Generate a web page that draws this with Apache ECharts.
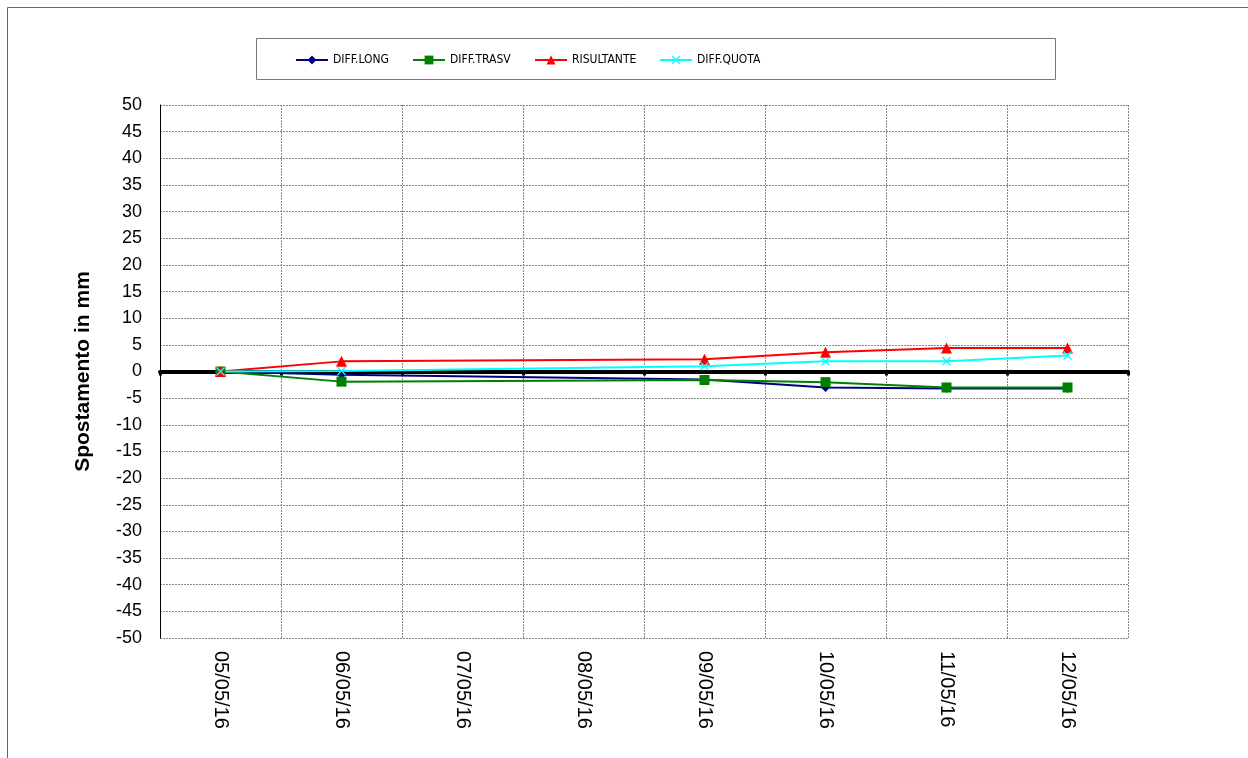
<!DOCTYPE html>
<html>
<head>
<meta charset="utf-8">
<script src="https://cdn.jsdelivr.net/npm/echarts@6/dist/echarts.min.js"></script>
<style>
html,body{margin:0;padding:0;background:#fff;}
#chart{width:1248px;height:758px;}
</style>
</head>
<body>
<div id="chart"></div>
<script>
const categories = ['05/05/16','06/05/16','07/05/16','08/05/16','09/05/16','10/05/16','11/05/16','12/05/16'];
const diffLong   = [0, -0.6, null, null, -1.5, -3.0, -3.2, -3.2];
const diffTrasv  = [0, -1.9, null, null, -1.6, -2.0, -3.0, -3.0];
const risultante = [0, 1.9, null, null, 2.3, 3.6, 4.4, 4.4];
const diffQuota  = [0, 0.1, null, null, 1.0, 1.9, 1.9, 3.0];
const yTicks = {min: -50, max: 50, interval: 5};

const FONT = '"Liberation Sans", Arial, sans-serif';
const NARROW = '"Liberation Sans Narrow", "Arial Narrow", "DejaVu Sans Condensed", sans-serif';
const crossPath = 'path://M0,1 L1,0 L5,4 L9,0 L10,1 L6,5 L10,9 L9,10 L5,6 L1,10 L0,9 L4,5 Z';

const chart = echarts.init(document.getElementById('chart'), null, {renderer: 'canvas'});

function mkSeries(name, data, color, symbol, size) {
  return {
    name: name, type: 'line', data: data, connectNulls: true,
    xAxisIndex: 0, yAxisIndex: 0,
    symbol: symbol, symbolSize: size,
    lineStyle: {color: color, width: 2},
    itemStyle: {color: color},
    emphasis: {disabled: true},
    animation: false
  };
}

function mkLegend(name, left) {
  return {
    data: [name], left: left, top: 54, padding: 0,
    itemWidth: 32, itemHeight: 11, itemGap: 5,
    textStyle: {fontFamily: NARROW, fontSize: 12, color: '#000'},
    selectedMode: false
  };
}

const option = {
  backgroundColor: '#fff',
  animation: false,
  graphic: [
    {type: 'rect', shape: {x: 7.5, y: 7.5, width: 1400, height: 900}, style: {fill: 'none', stroke: '#666', lineWidth: 1}, silent: true, z: -1},
    {type: 'rect', shape: {x: 256.5, y: 38.5, width: 799, height: 41}, style: {fill: 'none', stroke: '#777', lineWidth: 1}, silent: true, z: -1}
  ],
  legend: [
    mkLegend('DIFF.LONG', 295),
    mkLegend('DIFF.TRASV', 412),
    mkLegend('RISULTANTE', 534),
    mkLegend('DIFF.QUOTA', 659)
  ],
  grid: {left: 160, right: 120, top: 105, bottom: 120, containLabel: false},
  xAxis: [
    {
      type: 'category', data: categories, boundaryGap: true, position: 'bottom',
      axisLine: {show: false, onZero: false},
      axisTick: {show: false},
      axisLabel: {rotate: -90, fontSize: 20, fontFamily: FONT, color: '#000', margin: 13, interval: 0},
      splitLine: {show: true, interval: 0, lineStyle: {color: '#888', width: 1, type: [2, 1]}}
    },
    {
      type: 'category', data: categories, boundaryGap: true, position: 'bottom',
      axisLine: {show: true, onZero: true, lineStyle: {color: '#000', width: 4}},
      axisTick: {show: true, interval: 0, length: 4, lineStyle: {color: '#000', width: 3}},
      axisLabel: {show: false},
      splitLine: {show: false}
    }
  ],
  yAxis: {
    type: 'value', min: yTicks.min, max: yTicks.max, interval: yTicks.interval,
    name: 'Spostamento in mm', nameLocation: 'middle', nameGap: 66,
    nameTextStyle: {fontSize: 21, fontWeight: 'bold', fontFamily: FONT, color: '#000'},
    axisLine: {show: true, onZero: false, lineStyle: {color: '#000', width: 1}},
    axisTick: {show: false},
    axisLabel: {fontSize: 18, fontFamily: FONT, color: '#000', margin: 18},
    splitLine: {show: true, lineStyle: {color: '#888', width: 1, type: [2, 1]}}
  },
  series: [
    mkSeries('DIFF.LONG', diffLong, '#000080', 'diamond', 9),
    mkSeries('DIFF.TRASV', diffTrasv, '#008000', 'rect', 10),
    mkSeries('RISULTANTE', risultante, '#FF0000', 'triangle', 11),
    mkSeries('DIFF.QUOTA', diffQuota, '#00FFFF', crossPath, 9)
  ]
};
chart.setOption(option);
</script>
</body>
</html>
